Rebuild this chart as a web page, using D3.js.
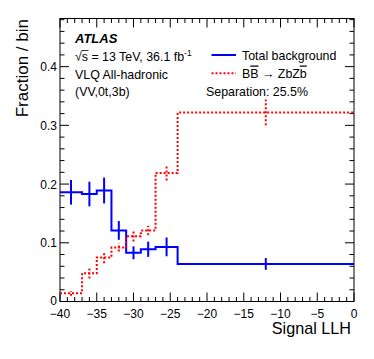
<!DOCTYPE html>
<html><head><meta charset="utf-8">
<script src="https://cdn.jsdelivr.net/npm/d3@7"></script>
<style>body{margin:0;background:#fff}svg{display:block;font-family:"Liberation Sans",Arial,sans-serif}</style>
</head><body><svg id="c" width="374" height="359"></svg>
<script>
const binEdges = [-40,-37,-35,-33,-31,-29,-27,-24,0];
const bkgValues = [0.186,0.183,0.189,0.121,0.083,0.089,0.093,0.064];
const bkgErrors = [0.021,0.021,0.022,0.016,0.011,0.013,0.016,0.010];
const sigValues = [0.014,0.048,0.075,0.092,0.111,0.121,0.219,0.322];
const sigErrors = [0.004,0.009,0.010,0.007,0.009,0.008,0.013,0.022];
const xTicks = [-40,-35,-30,-25,-20,-15,-10,-5,0];
const yTicks = [0,0.1,0.2,0.3,0.4];

const svg = d3.select("#c");
const L=60, R=354, T=18.5, B=301.5;
const x = d3.scaleLinear().domain([-40,0]).range([L,R]);
const y = d3.scaleLinear().domain([0,0.482]).range([B,T]);

function fmt(v){ return v===0?"0":(v<0?"\u2212"+Math.abs(v):String(v)); }

// frame
svg.append("rect").attr("x",L).attr("y",T).attr("width",R-L).attr("height",B-T)
  .attr("fill","none").attr("stroke","#000").attr("stroke-width",1);

// ticks
const g = svg.append("g").attr("stroke","#000").attr("stroke-width",1);
d3.range(-40,0.001,1).forEach(v=>{
  const major = Math.abs(v%5)<1e-9; const len = major?9:4.5;
  g.append("line").attr("x1",x(v)).attr("x2",x(v)).attr("y1",B).attr("y2",B-len);
  g.append("line").attr("x1",x(v)).attr("x2",x(v)).attr("y1",T).attr("y2",T+len);
});
d3.range(0,0.481,0.02).forEach(v=>{
  const major = Math.abs(Math.round(v*10)-v*10)<1e-6; const len = major?9:4.5;
  g.append("line").attr("y1",y(v)).attr("y2",y(v)).attr("x1",L).attr("x2",L+len);
  g.append("line").attr("y1",y(v)).attr("y2",y(v)).attr("x1",R).attr("x2",R-len);
});
svg.append("g").selectAll("text").data(xTicks).join("text")
  .attr("x",d=>x(d)).attr("y",B+16).attr("text-anchor","middle").attr("font-size",12).text(fmt);
svg.append("g").selectAll("text").data(yTicks).join("text")
  .attr("x",L-3).attr("y",d=>y(d)+(d===0?3.5:4.5)).attr("text-anchor","end").attr("font-size",12).text(d=>d===0?"0":String(d));

svg.append("text").attr("transform","translate(28,19) rotate(-90)").attr("text-anchor","end")
  .attr("font-size",17).text("Fraction / bin");
svg.append("text").attr("x",351).attr("y",334).attr("text-anchor","end").attr("font-size",16.2).text("Signal LLH");

// histograms
function stepPts(vals){ const p = vals.map((v,i)=>[binEdges[i],v]); p.push([binEdges[binEdges.length-1],vals[vals.length-1]]); return p; }
const line = d3.line().x(d=>x(d[0])).y(d=>y(d[1])).curve(d3.curveStepAfter);
function drawHist(vals, errs, color, dash){
  const gg = svg.append("g").attr("stroke",color).attr("stroke-width",2).attr("fill","none");
  if(dash) gg.attr("stroke-dasharray",dash);
  gg.append("path").attr("d",line(stepPts(vals)));
  vals.forEach((v,i)=>{
    const c=(binEdges[i]+binEdges[i+1])/2;
    gg.append("line").attr("x1",x(c)).attr("x2",x(c)).attr("y1",y(v-errs[i])).attr("y2",y(v+errs[i]));
  });
}
drawHist(bkgValues,bkgErrors,"#0000ff",null);
drawHist(sigValues,sigErrors,"#ff0000","2,2");

// labels
svg.append("text").attr("x",75).attr("y",43).attr("font-size",13).attr("font-weight","bold").attr("font-style","italic").text("ATLAS");
const t2 = svg.append("text").attr("x",75).attr("y",61).attr("font-size",12.4);
t2.append("tspan").text("\u221As = 13 TeV, 36.1 fb");
t2.append("tspan").attr("font-size",8.5).attr("dy",-5).text("-1");
svg.append("line").attr("x1",81.5).attr("x2",88.5).attr("y1",50.5).attr("y2",50.5).attr("stroke","#000").attr("stroke-width",0.8);
svg.append("text").attr("x",75).attr("y",79).attr("font-size",12.4).text("VLQ All-hadronic");
svg.append("text").attr("x",75).attr("y",96).attr("font-size",12.4).text("(VV,0t,3b)");

// legend
svg.append("line").attr("x1",211.5).attr("x2",236).attr("y1",55).attr("y2",55).attr("stroke","#0000ff").attr("stroke-width",2);
svg.append("text").attr("x",242).attr("y",59.5).attr("font-size",12.4).text("Total background");
svg.append("line").attr("x1",211.5).attr("x2",236).attr("y1",73.3).attr("y2",73.3).attr("stroke","#ff0000").attr("stroke-width",2).attr("stroke-dasharray","2,2");
const lt = svg.append("text").attr("x",242).attr("y",77.5).attr("font-size",12.4);
lt.append("tspan").text("B");
lt.append("tspan").attr("style","text-decoration:overline").text("B");
lt.append("tspan").text(" \u2192 ZbZ");
lt.append("tspan").attr("style","text-decoration:overline").text("b");
svg.append("text").attr("x",206).attr("y",96).attr("font-size",12.4).text("Separation: 25.5%");
</script></body></html>
